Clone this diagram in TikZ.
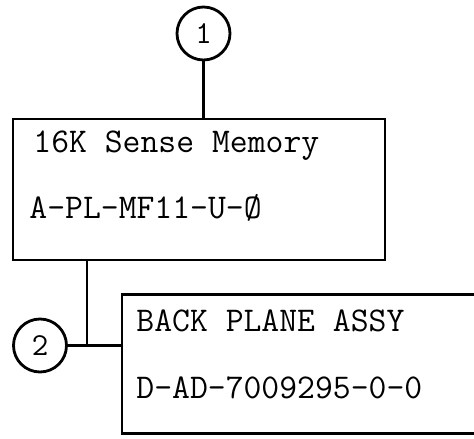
\documentclass[tikz,border=0pt]{standalone}
\usepackage{fontspec}
\tikzset{
  unitbox/.style={rectangle, draw, line width=2.8pt, inner sep=0pt},
  refdisc/.style={circle, draw, line width=2.8pt, minimum size=53pt, inner sep=0pt, font=\ttfamily\fontsize{32}{32}\selectfont},
  boxtext/.style={anchor=base west, inner sep=0pt, font=\ttfamily\fontsize{34.7}{34.7}\selectfont}
}
\begin{document}
\begin{tikzpicture}[x=1pt, y=-1pt, line width=2.8pt]
\clip (0,0) rectangle (474,439);
\node[refdisc] (c1) at (203.5,33.5) {1};
\node[unitbox, minimum width=372pt, minimum height=141pt] (mem) at (199,189.5) {};
\node[boxtext] (memname) at (32,152) {16K Sense Memory};
\node[boxtext] (memno) at (28,218) {A-PL-MF11-U-Ø};
\node[refdisc] (c2) at (40,345.5) {2};
\node[unitbox, minimum width=380pt, minimum height=139pt] (bp) at (312,364) {};
\node[boxtext] (bpname) at (135,331) {BACK PLANE ASSY};
\node[boxtext] (bpno) at (135,398) {D-AD-7009295-0-0};
\coordinate (j) at (87,346);
\draw (c1.south) -- (c1.south |- mem.north);
\draw (mem.south -| j) -- (j);
\draw (c2.east) -- (c2.east -| bp.west);
\end{tikzpicture}
\end{document}
